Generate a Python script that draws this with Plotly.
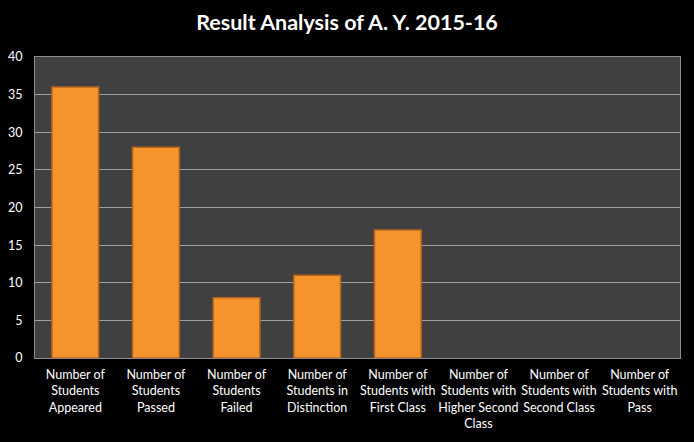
import plotly.graph_objects as go

categories = [
    "Number of<br>Students<br>Appeared",
    "Number of<br>Students<br>Passed",
    "Number of<br>Students<br>Failed",
    "Number of<br>Students in<br>Distinction",
    "Number of<br>Students with<br>First Class",
    "Number of<br>Students with<br>Higher Second<br>Class",
    "Number of<br>Students with<br>Second Class",
    "Number of<br>Students with<br>Pass",
]
students = [36, 28, 8, 11, 17, 0, 0, 0]
y_ticks = [0, 5, 10, 15, 20, 25, 30, 35, 40]

# no outline on empty bars, otherwise they show as a line on the axis
outline = [1.5 if v > 0 else 0 for v in students]

fig = go.Figure(go.Bar(
    x=categories,
    y=students,
    marker=dict(color="#f5932c", line=dict(color="#b5641c", width=outline)),
    hoverinfo="x+y",
))

fig.update_layout(
    width=694, height=442,
    title=dict(text="<b>Result Analysis of A. Y. 2015-16</b>", x=0.5, xanchor="center",
               y=0.95, yanchor="middle",
               font=dict(family="Lato, Open Sans, sans-serif", size=21.5, color="white")),
    paper_bgcolor="black",
    plot_bgcolor="#404040",
    margin=dict(l=35, r=14, t=57, b=84),
    bargap=0.42,
    showlegend=False,
    font=dict(family="Lato, Open Sans, sans-serif", size=12, color="white"),
)
fig.update_xaxes(
    showgrid=False, tickangle=0, ticks="outside", ticklen=5, tickcolor="black",
    showline=True, linecolor="#8c8c8c", mirror=True, automargin=False,
    tickfont=dict(size=12.5),
)
fig.update_yaxes(
    range=[0, 40], tickvals=y_ticks, showgrid=True, gridcolor="#a0a0a0", gridwidth=1,
    showline=True, linecolor="#8c8c8c", mirror=True, zeroline=False,
    ticks="outside", ticklen=9, tickcolor="black", automargin=False,
    tickfont=dict(size=12.5),
)

# drop the page's default white body margin so the figure sits at the window edge
fig.write_html("out.html", config={"displayModeBar": False},
               post_script="document.body.style.margin='0';document.body.style.background='black';")
